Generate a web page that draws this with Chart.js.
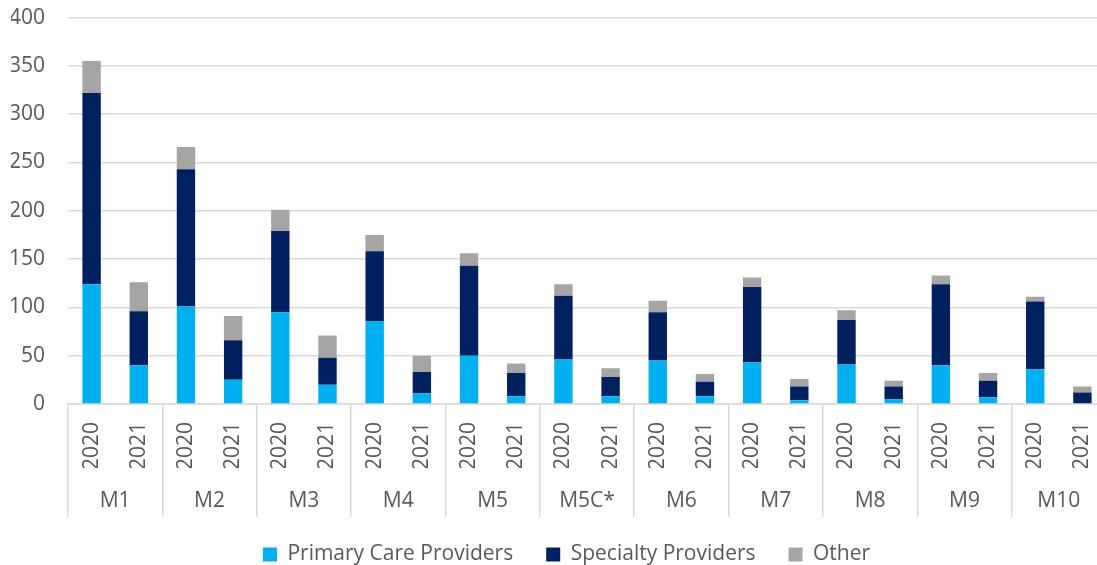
<!DOCTYPE html>
<html>
<head>
<meta charset="utf-8">
<script src="https://cdn.jsdelivr.net/npm/chart.js@4/dist/chart.umd.min.js"></script>
<style>
  html, body { margin: 0; padding: 0; background: #fff; overflow: hidden; }
  #wrap { position: relative; width: 1110px; height: 565px; }
</style>
</head>
<body>
<div id="wrap"><canvas id="grafico"></canvas></div>
<script>
// Grupos e anos (eixo de duas linhas)
const grupos = ["M1", "M2", "M3", "M4", "M5", "M5C*", "M6", "M7", "M8", "M9", "M10"];
const anos = ["2020", "2021"];

// Valores, na ordem M1-2020, M1-2021, M2-2020, ...
const primaryCare = [124, 40, 101, 25, 95, 20, 86, 11, 50, 8, 46, 8, 45, 8, 43, 4, 41, 5, 40, 7, 36, 0];
const specialty = [198, 56, 142, 41, 84, 28, 72, 22, 93, 24, 66, 20, 50, 15, 78, 14, 46, 13, 84, 17, 70, 12];
const other = [33, 30, 23, 25, 22, 23, 17, 17, 13, 10, 12, 9, 12, 8, 10, 8, 10, 6, 9, 8, 5, 6];

const yTicks = { min: 0, max: 400, step: 50 };

const COR_TEXTO = "#595959";
const COR_GRADE = "#d9d9d9";

const labelsAnos = grupos.flatMap(() => anos);

Chart.defaults.font.family = "'Open Sans', sans-serif";
Chart.defaults.font.size = 21;
Chart.defaults.color = COR_TEXTO;

// legenda mais baixa (corta a folga de baixo) e um pouco para a direita
const ajusteLegenda = {
  id: "ajusteLegenda",
  beforeInit(chart) {
    const fitOriginal = chart.legend.fit;
    chart.legend.fit = function () {
      fitOriginal.call(this);
      this.height = 57;
    };
  },
  afterLayout(chart) {
    chart.legend.left += 8;
    chart.legend.right += 8;
    chart.legend.top += 3;
    chart.legend.bottom += 3;
  }
};

new Chart(document.getElementById("grafico"), {
  type: "bar",
  data: {
    labels: labelsAnos,
    datasets: [
      { label: "Primary Care Providers", data: primaryCare, backgroundColor: "#00b0f0" },
      { label: "Specialty Providers", data: specialty, backgroundColor: "#002060" },
      { label: "Other", data: other, backgroundColor: "#a5a5a5" }
    ]
  },
  plugins: [ajusteLegenda],
  options: {
    responsive: true,
    maintainAspectRatio: false,
    animation: false,
    barPercentage: 0.39,
    categoryPercentage: 1,
    layout: { padding: { left: 11, right: 4, top: 0, bottom: 0 } },
    plugins: {
      tooltip: { enabled: false },
      legend: {
        position: "bottom",
        labels: { boxWidth: 14, boxHeight: 14, padding: 33, color: COR_TEXTO }
      }
    },
    scales: {
      x: {
        stacked: true,
        offset: true,
        weight: 0,
        grid: {
          offset: true,
          drawOnChartArea: false,
          tickLength: 113,
          lineWidth: 1.5,
          // só as divisões entre grupos
          color: (c) => (c.index === undefined || c.index % 2 === 0) ? COR_GRADE : "rgba(0,0,0,0)"
        },
        border: { display: true, color: COR_GRADE, width: 1.5 },
        ticks: { autoSkip: false, minRotation: 90, maxRotation: 90, padding: -95 },
        afterFit: (s) => { s.height = 64; }
      },
      x2: {
        type: "category",
        labels: grupos,
        position: "bottom",
        offset: true,
        weight: 1,
        grid: { display: false, drawTicks: false },
        border: { display: false },
        ticks: { autoSkip: false, maxRotation: 0, padding: 20 },
        afterFit: (s) => { s.height = 40; }
      },
      y: {
        stacked: true,
        min: yTicks.min,
        max: yTicks.max,
        border: { display: false },
        grid: { color: COR_GRADE, lineWidth: 1.5, tickLength: 18, tickColor: "rgba(0,0,0,0)" },
        ticks: { stepSize: yTicks.step, padding: 5 },
        afterFit: (s) => { s.width = 57; }
      }
    }
  }
});
</script>
</body>
</html>
